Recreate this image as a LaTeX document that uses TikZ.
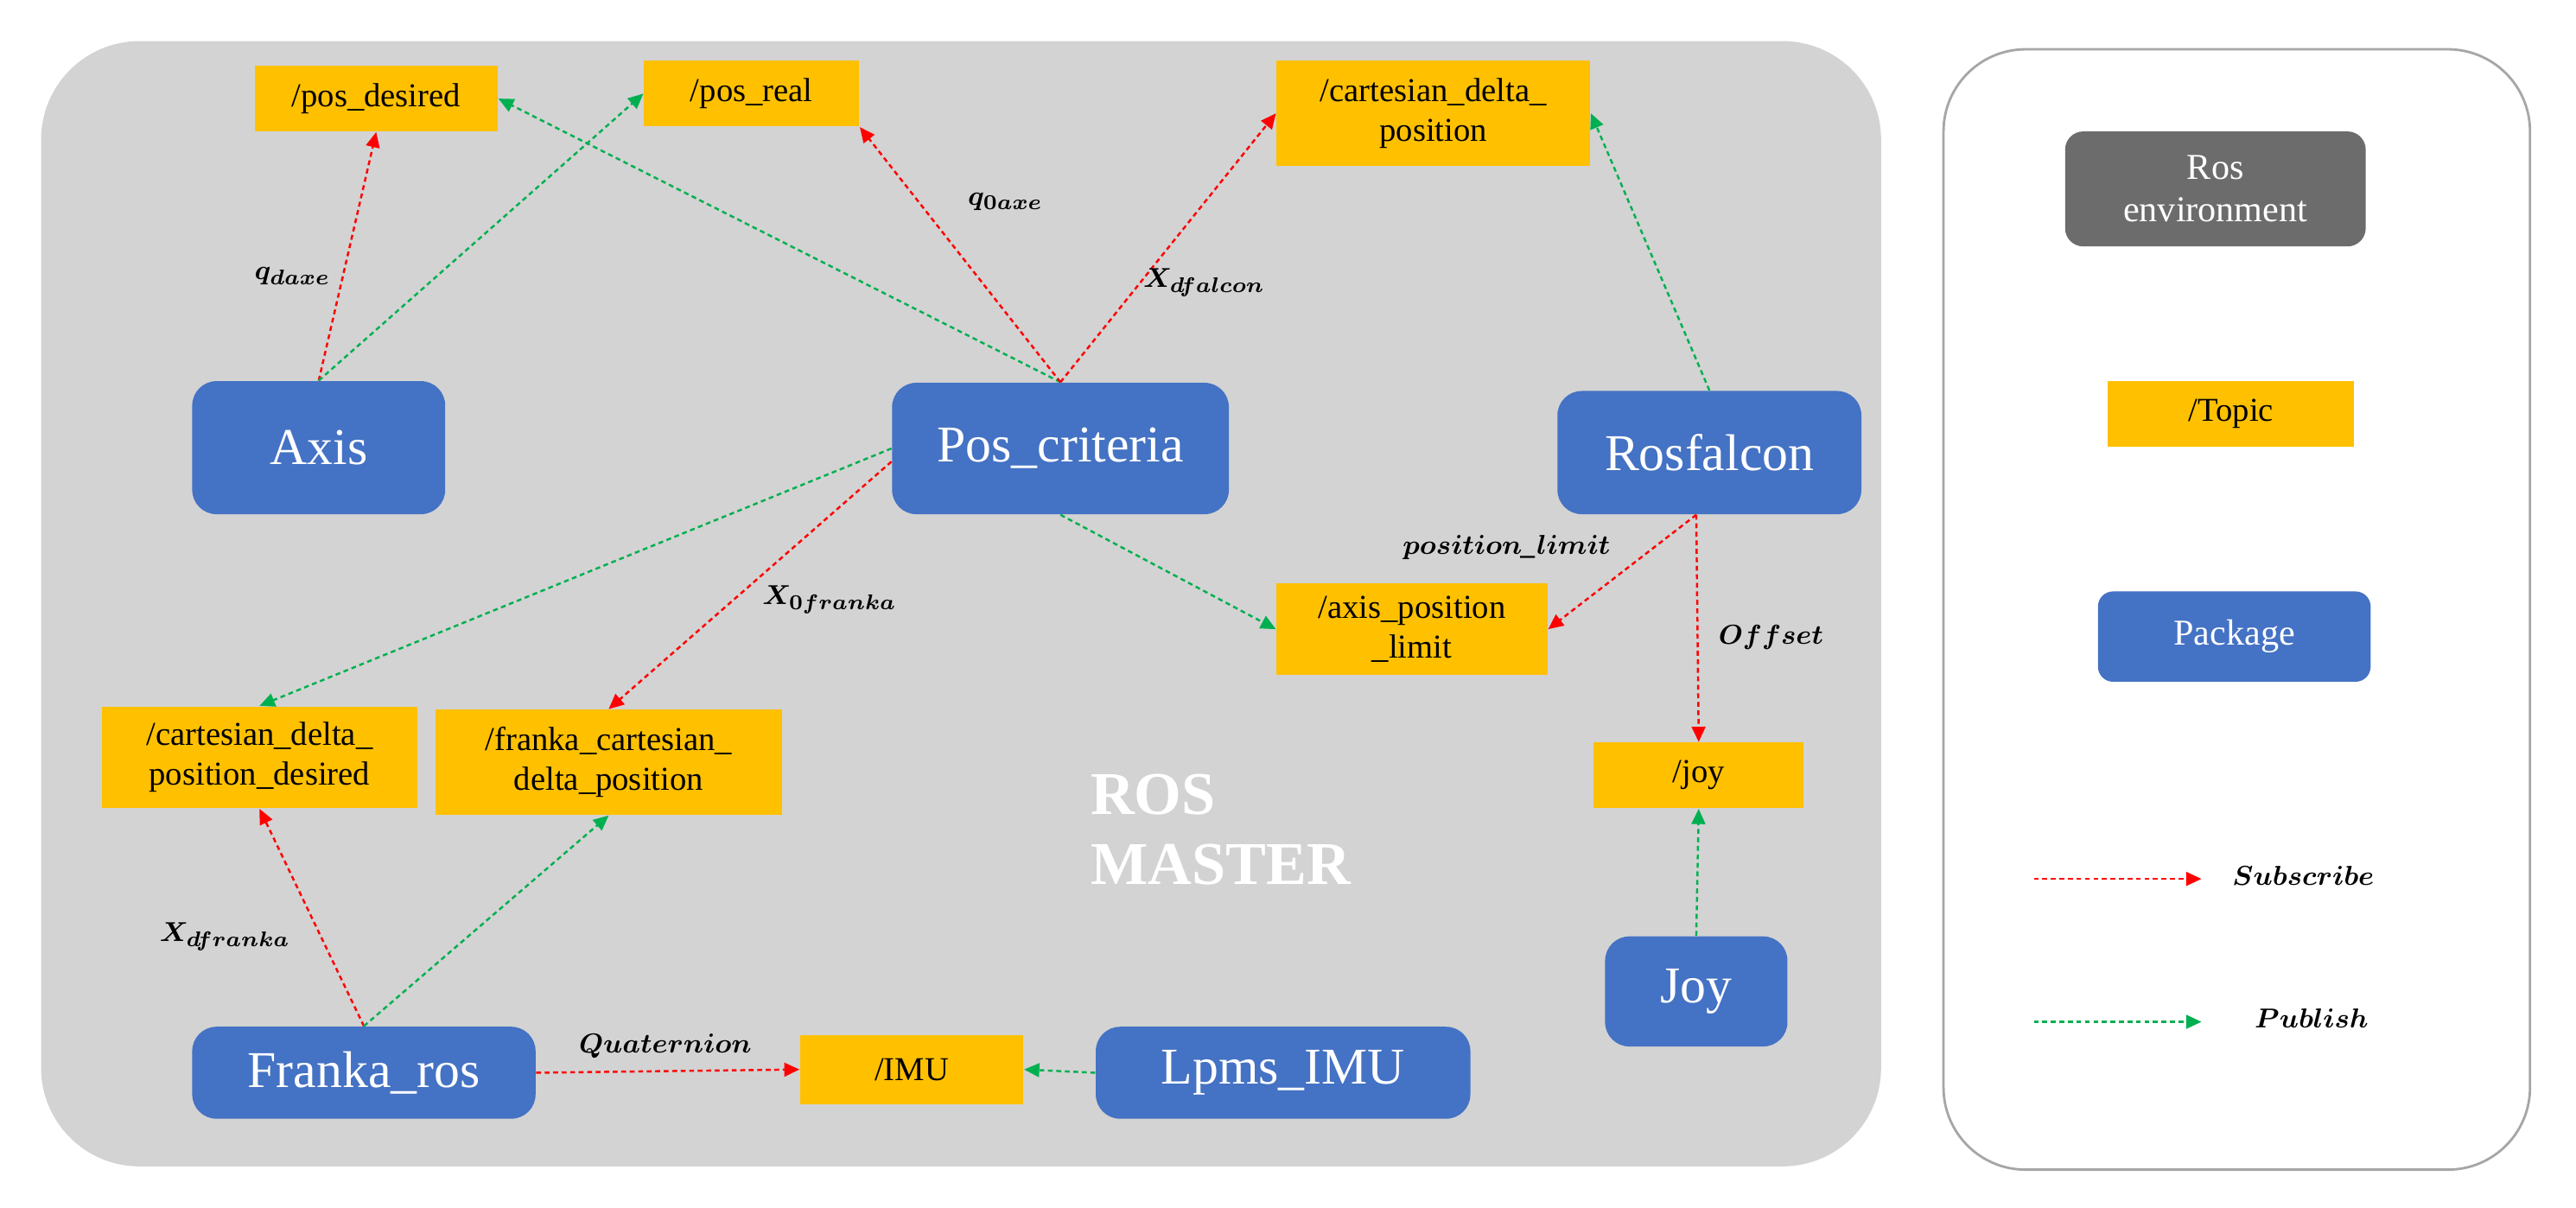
\documentclass[tikz,border=0pt]{standalone}
\usepackage{amsmath,bm}
\usepackage{fontspec}
\setmainfont{Liberation Serif}
\usetikzlibrary{arrows.meta}
\def\px{0.01901cm}
\definecolor{pkgblue}{HTML}{4472C4}
\definecolor{topicor}{HTML}{FFC000}
\definecolor{bggray}{HTML}{D3D3D3}
\definecolor{subred}{HTML}{FF0000}
\definecolor{pubgreen}{HTML}{00B050}
\tikzset{
 pkg/.style={fill=pkgblue,draw=none,rounded corners=8pt,text=white,font=\fontsize{17}{19}\selectfont,inner sep=0pt},
 topic/.style={fill=topicor,draw=none,font=\fontsize{11}{13}\selectfont,inner sep=0pt,align=center},
 sub/.style={draw=subred,line width=0.7pt,dash pattern=on 1.6pt off 1.2pt,-{Triangle[length=5pt,width=4.5pt,fill=subred]}},
 pub/.style={draw=pubgreen,line width=0.7pt,dash pattern=on 1.6pt off 1.2pt,-{Triangle[length=5pt,width=4.5pt,fill=pubgreen]}},
 lab/.style={font=\fontsize{9.5}{11}\selectfont\bfseries\itshape,inner sep=1pt}
}
\begin{document}
\begin{tikzpicture}[x=0.01901cm,y=-0.01901cm]
\useasboundingbox (0,0) rectangle (1568,735);
\fill[bggray,rounded corners=60*\px] (25,25) rectangle (1145,710);
\draw[gray!70,line width=0.8pt,fill=white,rounded corners=50*\px] (1183,30) rectangle (1540,712);
% legend
\node[fill=gray!85!black,text=white,rounded corners=6pt,minimum width=183*\px,minimum height=70*\px,align=center,font=\fontsize{12}{14}\selectfont,inner sep=0pt] (env) at (1348.5,115) {Ros\\environment};
\node[topic,minimum width=150*\px,minimum height=40*\px] (ltopic) at (1358,252) {/Topic};
\node[pkg,minimum width=166*\px,minimum height=55*\px,font=\fontsize{12}{14}\selectfont,rounded corners=5pt] (lpkg) at (1360,387.5) {Package};
\coordinate (s1) at (1238,535); \coordinate (s2) at (1340,535);
\coordinate (p1) at (1238,622); \coordinate (p2) at (1340,622);
\draw[sub] (s1) -- (s2);
\draw[pub] (p1) -- (p2);
\node[lab] (lsub) at (1402,533) {$\bm{Subscribe}$};
\node[lab] (lpub) at (1407,620) {$\bm{Publish}$};
% topics
\node[topic,minimum width=148*\px,minimum height=40*\px] (pd) at (229,60) {/pos\_desired};
\node[topic,minimum width=131*\px,minimum height=40*\px] (pr) at (457.5,57) {/pos\_real};
\node[topic,minimum width=191*\px,minimum height=64*\px] (cdp) at (872.5,69) {/cartesian\_delta\_\\position};
\node[topic,minimum width=165*\px,minimum height=56*\px] (apl) at (859.5,383) {/axis\_position\\\_limit};
\node[topic,minimum width=192*\px,minimum height=62*\px] (cdpd) at (158,461) {/cartesian\_delta\_\\position\_desired};
\node[topic,minimum width=211*\px,minimum height=64*\px] (fcdp) at (370.5,464) {/franka\_cartesian\_\\delta\_position};
\node[topic,minimum width=128*\px,minimum height=40*\px] (joyt) at (1034,472) {/joy};
\node[topic,minimum width=136*\px,minimum height=42*\px] (imu) at (555,651) {/IMU};
% packages
\node[pkg,minimum width=154*\px,minimum height=81*\px] (axis) at (194,272.5) {Axis};
\node[pkg,minimum width=205*\px,minimum height=80*\px] (pc) at (645.5,273) {Pos\_criteria};
\node[pkg,minimum width=185*\px,minimum height=75*\px] (rf) at (1040.5,275.5) {Rosfalcon};
\node[pkg,minimum width=111*\px,minimum height=67*\px] (joy) at (1032.5,603.5) {Joy};
\node[pkg,minimum width=209*\px,minimum height=56*\px] (fr) at (221.5,653) {Franka\_ros};
\node[pkg,minimum width=228*\px,minimum height=56*\px] (lpms) at (781,653) {Lpms\_IMU};
\node[text=white,font=\fontsize{20}{23}\selectfont\bfseries,align=left] (master) at (743,505) {ROS\\MASTER};
% connectors
\draw[sub] (axis.north) -- (pd.south);
\draw[pub] (axis.north) -- (pr.west);
\draw[pub] (pc.north) -- (pd.east);
\draw[sub] (pc.north) -- (pr.south east);
\draw[sub] (pc.north) -- (cdp.west);
\draw[pub] (rf.north) -- (cdp.east);
\draw[pub] (pc.west) -- (cdpd.north);
\draw[sub] ([yshift=-8*\px]pc.west) -- (fcdp.north);
\draw[pub] (pc.south) -- (apl.west);
\draw[sub] ([xshift=-8*\px]rf.south) -- (apl.east);
\draw[sub] ([xshift=-8*\px]rf.south) -- (joyt.north);
\draw[pub] (joy.north) -- (joyt.south);
\draw[sub] (fr.north) -- (cdpd.south);
\draw[pub] (fr.north) -- (fcdp.south);
\draw[sub] (fr.east) -- (imu.west);
\draw[pub] (lpms.west) -- (imu.east);
% labels
\node[lab] (l1) at (178,168) {$\bm{q_{daxe}}$};
\node[lab] (l2) at (612,123) {$\bm{q_{0axe}}$};
\node[lab] (l3) at (733,172) {$\bm{X_{dfalcon}}$};
\node[lab] (l4) at (505,365) {$\bm{X_{0franka}}$};
\node[lab] (l5) at (917,333) {$\bm{position\_limit}$};
\node[lab] (l6) at (1078,388) {$\bm{Offset}$};
\node[lab] (l7) at (137,570) {$\bm{X_{dfranka}}$};
\node[lab] (l8) at (405,637) {$\bm{Quaternion}$};
\end{tikzpicture}
\end{document}
